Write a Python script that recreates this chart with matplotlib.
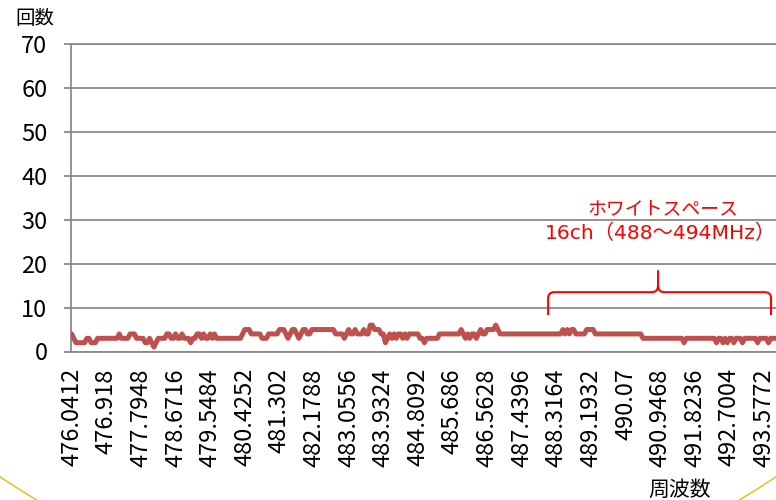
import matplotlib
matplotlib.use("Agg")
import matplotlib.pyplot as plt
from matplotlib.patches import Ellipse, PathPatch
from matplotlib.path import Path

plt.rcParams['font.family'] = ['Noto Sans CJK JP', 'DejaVu Sans']

# ---- data ----
# counts per frequency bin (step 0.0548 MHz, 16 bins per tick label)
COUNTS = (
    [4, 3, 2, 2, 2, 2, 2, 3, 3, 2, 2, 2, 3, 3, 3, 3]
    + [3, 3, 3, 3, 3, 3, 4, 3, 3, 3, 3, 4, 4, 4, 3, 3]
    + [3, 3, 2, 2, 3, 2, 1, 2, 3, 3, 3, 3, 4, 4, 3, 3]
    + [4, 3, 3, 4, 3, 3, 3, 2, 3, 3, 4, 4, 3, 4, 3, 3]
    + [4, 3, 4, 3, 3, 3, 3, 3, 3, 3, 3, 3, 3, 3, 3, 4]
    + [5, 5, 5, 4, 4, 4, 4, 4, 3, 3, 3, 4, 4, 4, 4, 4]
    + [5, 5, 5, 4, 3, 4, 5, 5, 4, 3, 4, 5, 5, 4, 4, 5]
    + [5, 5, 5, 5, 5, 5, 5, 5, 5, 5, 4, 4, 4, 4, 3, 4]
    + [5, 4, 4, 5, 4, 4, 4, 5, 4, 4, 6, 6, 5, 5, 5, 4]
    + [4, 2, 3, 4, 3, 4, 3, 4, 4, 3, 4, 3, 4, 4, 4, 4]
    + [4, 3, 3, 2, 3, 3, 3, 3, 3, 3, 4, 4, 4, 4, 4, 4]
    + [4, 4, 4, 4, 5, 4, 3, 4, 3, 4, 4, 3, 4, 5, 4, 4]
    + [5, 5, 5, 5, 6, 5, 4, 4, 4, 4, 4, 4, 4, 4, 4, 4]
    + [4, 4, 4, 4, 4, 4, 4, 4, 4, 4, 4, 4, 4, 4, 4, 4]
    + [4, 4, 4, 5, 4, 5, 4, 5, 5, 4, 4, 4, 4, 4, 5, 5]
    + [5, 5, 4, 4, 4, 4, 4, 4, 4, 4, 4, 4, 4, 4, 4, 4]
    + [4, 4, 4, 4, 4, 4, 4, 4, 3, 3, 3, 3, 3, 3, 3, 3]
    + [3, 3, 3, 3, 3, 3, 3, 3, 3, 3, 3, 2, 3, 3, 3, 3]
    + [3, 3, 3, 3, 3, 3, 3, 3, 3, 3, 2, 3, 3, 2, 3, 2]
    + [3, 3, 2, 3, 3, 3, 2, 3, 3, 3, 3, 3, 3, 2, 3, 3]
    + [3, 3, 2, 3, 3, 3]
)

TICK_LABELS = [
    "476.0412", "476.918", "477.7948", "478.6716", "479.5484", "480.4252",
    "481.302", "482.1788", "483.0556", "483.9324", "484.8092", "485.686",
    "486.5628", "487.4396", "488.3164", "489.1932", "490.07", "490.9468",
    "491.8236", "492.7004", "493.5772",
]
TICK_EVERY = 16
Y_TICKS = [0, 10, 20, 30, 40, 50, 60, 70]

GRID = "#8a8a8a"
LINE = "#c0504d"
RED = "#ff0000"

fig = plt.figure(figsize=(7.76, 5.0), dpi=100)
ax = fig.add_axes([71 / 776, 148.5 / 500, 705 / 776, 307.5 / 500])

ax.plot(range(len(COUNTS)), COUNTS, color=LINE, lw=3.6,
        solid_joinstyle="round", solid_capstyle="round", zorder=3)

ax.set_xlim(-0.3, 325.5)
ax.set_ylim(0, 70)
ax.set_yticks(Y_TICKS)
ax.set_xticks([i * TICK_EVERY for i in range(len(TICK_LABELS))])
ax.set_xticklabels(TICK_LABELS, rotation=90, fontsize=17)
ax.tick_params(axis="y", labelsize=17, length=5, width=1.3, color=GRID, pad=12)
ax.tick_params(axis="x", length=0, pad=12)

ax.yaxis.grid(True, color=GRID, lw=1.3)
ax.set_axisbelow(True)
ax.spines["right"].set_visible(False)
for s in ("left", "bottom", "top"):
    ax.spines[s].set_color(GRID)
    ax.spines[s].set_linewidth(1.3)

# white-space brace
verts = [
    (220.2, 8.3), (220.2, 12.1), (220.2, 13.5), (223.0, 13.5), (268.2, 13.5),
    (271.0, 13.5), (271.0, 15.1), (271.0, 18.5),
    (271.0, 15.1), (271.0, 13.5), (273.8, 13.5), (320.4, 13.5),
    (323.2, 13.5), (323.2, 12.1), (323.2, 8.3),
]
codes = [
    Path.MOVETO, Path.LINETO, Path.CURVE3, Path.CURVE3, Path.LINETO,
    Path.CURVE3, Path.CURVE3, Path.LINETO,
    Path.MOVETO, Path.CURVE3, Path.CURVE3, Path.LINETO,
    Path.CURVE3, Path.CURVE3, Path.LINETO,
]
ax.add_patch(PathPatch(Path(verts, codes), fill=False, edgecolor=RED,
                       lw=1.5, clip_on=False, zorder=4))
ax.text(273.3, 32.6, "ホワイトスペース", color=RED, fontsize=13.6,
        ha="center", va="center")
ax.text(272.0, 26.9, "16ch（488～494MHz）", color=RED, fontsize=14.6,
        ha="center", va="center", family=["DejaVu Sans", "Noto Sans CJK JP"])

fig.text(15 / 776, 1 - 19 / 500, "回数", fontsize=14, ha="left", va="center")
fig.text(680 / 776, 1 - 490 / 500, "周波数", fontsize=15, ha="center", va="center")

# decorative yellow arc of the slide frame (only its lower corners show)
fig.add_artist(Ellipse((0.5, 1 + 200 / 500), 2 * 734.6 / 776, 2 * 797 / 500,
                       transform=fig.transFigure, fill=False,
                       edgecolor="#f2b705", lw=1.0))

fig.savefig("out.png", dpi=100)
